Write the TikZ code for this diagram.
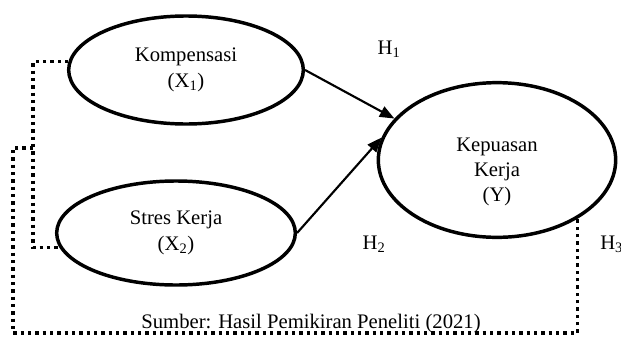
\documentclass[tikz,border=0pt]{standalone}
\usepackage{fontspec}
\setmainfont{Liberation Serif}
\usetikzlibrary{arrows.meta,shapes.geometric}

\tikzset{
  var/.style={ellipse, draw, line width=2.6pt, align=center, inner sep=0pt},
  arr/.style={-{Triangle[length=11pt,width=8.5pt]}, line width=1.6pt},
  dotline/.style={line width=2.5pt, dash pattern=on 2.5pt off 3pt},
}

\begin{document}
\begin{tikzpicture}[x=0.75pt, y=-0.75pt, font=\fontsize{15.5}{20}\selectfont]
  \useasboundingbox (0,0) rectangle (621,336);

  \node[var, minimum width=176pt, minimum height=81pt] (X1) at (186,70) {Kompensasi\\(X\textsubscript{1})};
  \node[var, minimum width=179pt, minimum height=78pt] (X2) at (176,233) {Stres Kerja\\(X\textsubscript{2})};
  \node[var, minimum width=178pt, minimum height=116pt] (Y) at (497,160) {};
  \node[align=center, font=\fontsize{15.5}{18.8}\selectfont] (Ytext) at (497,172) {Kepuasan\\Kerja\\(Y)};

  \draw[arr] (X1.east) -- (Y.158);
  \draw[arr] (X2.east) -- (Y.169);

  \node (H1) at (389,49) {H\textsubscript{1}};
  \node (H2) at (374,244) {H\textsubscript{2}};
  \node[anchor=west, inner xsep=0pt] (H3) at (600,244) {H\textsubscript{3}};

  % garis putus-putus
  \coordinate (split) at (33,148);
  \coordinate (outer) at (13,148);
  \coordinate (floor) at (0,333);
  \draw[dotline] (X1.176) -| (split) |- (X2.187);
  \draw[dotline] (split) -- (outer) |- (Y.-36 |- floor) -- (Y.-36);

  \node[anchor=base] (src) at (311,328) {Sumber: Hasil Pemikiran Peneliti (2021)};
\end{tikzpicture}
\end{document}
